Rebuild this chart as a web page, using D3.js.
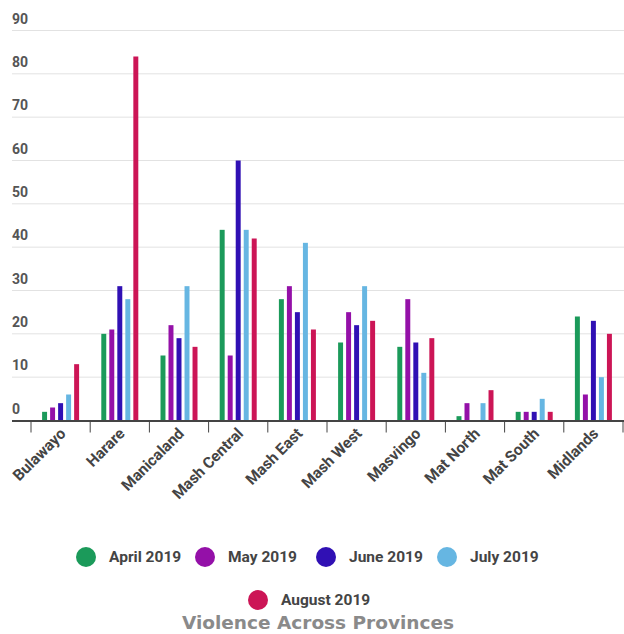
<!DOCTYPE html>
<html>
<head>
<meta charset="utf-8">
<script src="https://cdn.jsdelivr.net/npm/d3@7"></script>
<style>
  body { margin: 0; background: #fff; }
</style>
</head>
<body>
<svg class="chart" width="624" height="634"></svg>
<script>
var provinces = ["Bulawayo", "Harare", "Manicaland", "Mash Central", "Mash East", "Mash West", "Masvingo", "Mat North", "Mat South", "Midlands"];
var months = ["April 2019", "May 2019", "June 2019", "July 2019", "August 2019"];
var colors = ["#1b9a5a", "#9410a8", "#3010b4", "#66b6e2", "#cc1556"];

var april = [2, 20, 15, 44, 28, 18, 17, 1, 2, 24];
var may = [3, 21, 22, 15, 31, 25, 28, 4, 2, 6];
var june = [4, 31, 19, 60, 25, 22, 18, 0, 2, 23];
var july = [6, 28, 31, 44, 41, 31, 11, 4, 5, 10];
var august = [13, 84, 17, 42, 21, 23, 19, 7, 2, 20];
var yTicks = [0, 10, 20, 30, 40, 50, 60, 70, 80, 90];

var series = [april, may, june, july, august];

var svg = d3.select(".chart");
var gridLeft = 12, gridRight = 624, plotTop = 30.5, plotBottom = 420.5;

var x = d3.scaleBand().domain(provinces).range([31, 623]);
var y = d3.scaleLinear().domain([0, 90]).range([plotBottom, plotTop]);
var inner = d3.scaleBand().domain(d3.range(months.length)).range([-18.5, 18.5]).paddingInner(0.38);

// grid lines
svg.append("g").selectAll("line")
  .data(yTicks.filter(function(d) { return d > 0; }))
  .enter().append("line")
  .attr("x1", gridLeft).attr("x2", gridRight)
  .attr("y1", function(d) { return y(d); })
  .attr("y2", function(d) { return y(d); })
  .attr("stroke", "#e2e2e2").attr("stroke-width", 1);

// y labels
svg.append("g").selectAll("text")
  .data(yTicks)
  .enter().append("text")
  .attr("x", gridLeft)
  .attr("y", function(d) { return y(d) - 7; })
  .attr("font-family", "Roboto, sans-serif")
  .attr("font-weight", "bold")
  .attr("font-size", 14)
  .attr("fill", "#555")
  .text(function(d) { return d; });

// bars
series.forEach(function(vals, i) {
  svg.append("g").selectAll("rect")
    .data(vals)
    .enter().append("rect")
    .attr("x", function(d, j) { return x(provinces[j]) + x.bandwidth() / 2 + inner(i); })
    .attr("width", inner.bandwidth())
    .attr("y", function(d) { return y(d); })
    .attr("height", function(d) { return plotBottom - y(d); })
    .attr("fill", colors[i]);
});

// x axis
svg.append("line")
  .attr("x1", gridLeft).attr("x2", gridRight)
  .attr("y1", plotBottom + 0.5).attr("y2", plotBottom + 0.5)
  .attr("stroke", "#444").attr("stroke-width", 2);
var tickX = provinces.map(function(d) { return x(d); }).concat([x.range()[1]]);
svg.append("g").selectAll("line")
  .data(tickX)
  .enter().append("line")
  .attr("x1", function(d) { return d; })
  .attr("x2", function(d) { return d; })
  .attr("y1", plotBottom).attr("y2", plotBottom + 12)
  .attr("stroke", "#444").attr("stroke-width", 1);

svg.append("g").selectAll("text")
  .data(provinces)
  .enter().append("text")
  .attr("transform", function(d) {
    return "translate(" + (x(d) + x.bandwidth() / 2 + 6) + "," + (plotBottom + 14) + ") rotate(-45)";
  })
  .attr("text-anchor", "end")
  .attr("font-family", "Roboto, sans-serif")
  .attr("font-weight", "bold")
  .attr("font-size", 15.5)
  .attr("fill", "#444")
  .text(function(d) { return d; });

// legend
var legendPos = [[86, 557], [205, 557], [326, 557], [447, 557], [258, 600]];
var legend = svg.append("g").selectAll("g")
  .data(months)
  .enter().append("g")
  .attr("transform", function(d, i) { return "translate(" + legendPos[i][0] + "," + legendPos[i][1] + ")"; });
legend.append("circle")
  .attr("r", 10)
  .attr("fill", function(d, i) { return colors[i]; });
legend.append("text")
  .attr("x", 23)
  .attr("dy", "0.35em")
  .attr("font-family", "Roboto, sans-serif")
  .attr("font-weight", "bold")
  .attr("font-size", 15.5)
  .attr("fill", "#444")
  .text(function(d) { return d; });

// title
svg.append("text")
  .attr("x", 318)
  .attr("y", 629)
  .attr("text-anchor", "middle")
  .attr("font-family", "'DejaVu Sans', sans-serif")
  .attr("font-weight", "bold")
  .attr("font-size", 18.5)
  .attr("fill", "#8a8a8a")
  .text("Violence Across Provinces");
</script>
</body>
</html>
